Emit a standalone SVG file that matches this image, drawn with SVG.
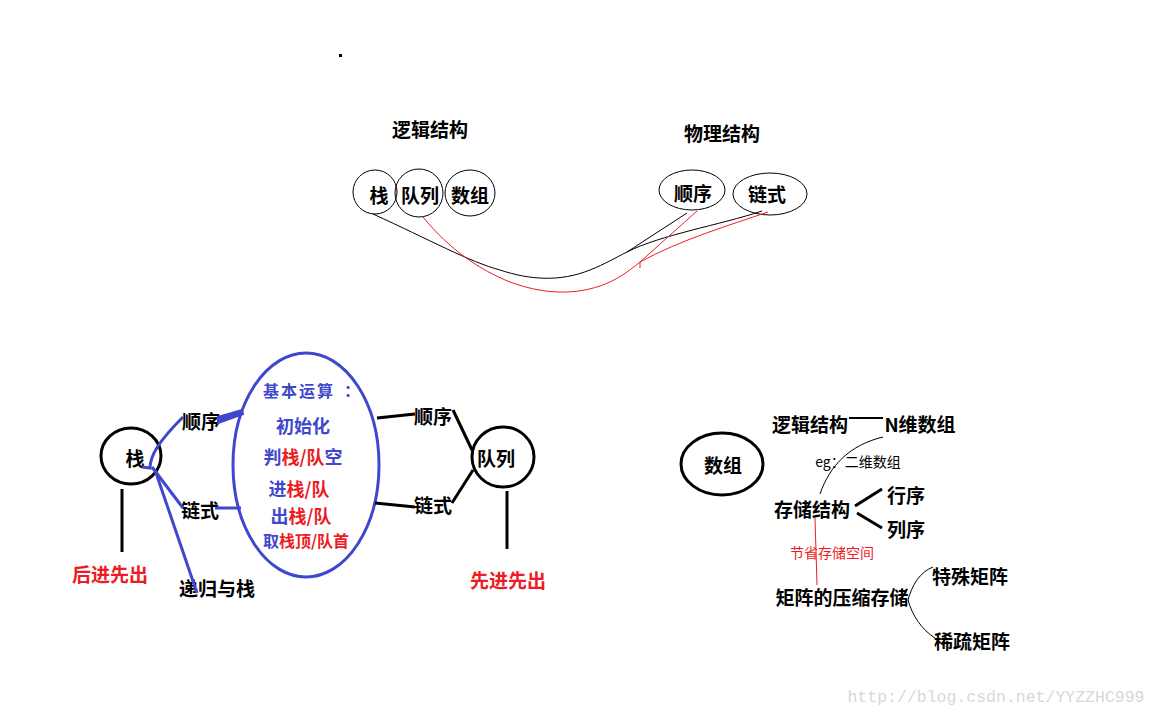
<svg xmlns="http://www.w3.org/2000/svg" width="1158" height="718" viewBox="0 0 1158 718">
<style>
text{font-family:"Noto Sans CJK SC","Liberation Sans",sans-serif;text-anchor:middle;dominant-baseline:central}
.b{font-size:19px;font-weight:bold;fill:#000}
.m{font-size:18px;font-weight:bold}
.n{font-size:14px;fill:#000}
.r{fill:#ed1c24}
.u{fill:#3f48cc}
.thin{fill:none;stroke:#000;stroke-width:1}
.thick{fill:none;stroke:#000;stroke-width:3}
.blue{fill:none;stroke:#3f48cc;stroke-width:3}
.wm{font-family:"Liberation Mono",monospace;font-size:16.5px;fill:#d8d8d8}
</style>
<rect width="1158" height="718" fill="#fff"/>
<rect x="339" y="54" width="3" height="3" fill="#000"/>

<g id="top-titles">
<text class="b" x="430" y="128">逻辑结构</text>
<text class="b" x="722" y="132">物理结构</text>
</g>
<g id="node-zhan-top"><ellipse cx="375" cy="192" rx="22" ry="22" class="thin"/><text class="b" x="379" y="194">栈</text></g>
<g id="node-duilie-top"><ellipse cx="419" cy="193" rx="24" ry="24" class="thin"/><text class="b" x="420" y="194">队列</text></g>
<g id="node-shuzu-top"><ellipse cx="470" cy="193" rx="25" ry="23" class="thin"/><text class="b" x="470" y="194">数组</text></g>
<g id="node-shunxu-top"><ellipse cx="692" cy="190" rx="33" ry="20" class="thin"/><text class="b" x="693" y="192">顺序</text></g>
<g id="node-lianshi-top"><ellipse cx="770" cy="194" rx="37" ry="21" class="thin"/><text class="b" x="767" y="193">链式</text></g>

<g id="node-zhan"><ellipse cx="131" cy="456" rx="30" ry="28" class="thick"/><text class="b" x="135" y="457">栈</text></g>
<g id="label-lifo"><text class="b r" x="110" y="573">后进先出</text></g>
<g id="label-shunxu-l"><text class="b" x="201" y="420">顺序</text></g>
<g id="label-lianshi-l"><text class="b" x="200" y="509">链式</text></g>
<g id="label-digui"><text class="b" x="217" y="587">递归与栈</text></g>

<g id="node-ops">
<ellipse cx="306" cy="465" rx="73" ry="112" fill="none" stroke="#3f48cc" stroke-width="3"/>
<text class="u" x="299" y="390" style="font-size:16px;font-weight:bold;letter-spacing:2px">基本运算</text>
<text class="u" x="352" y="390" style="font-size:16px;font-weight:bold">：</text>
<text class="m u" x="303" y="425">初始化</text>
<text class="m" x="303" y="456"><tspan class="u">判</tspan><tspan class="r">栈/队</tspan><tspan class="u">空</tspan></text>
<text class="m" x="299" y="488"><tspan class="u">进</tspan><tspan class="r">栈/队</tspan></text>
<text class="m" x="301" y="515"><tspan class="u">出</tspan><tspan class="r">栈/队</tspan></text>
<text class="m" x="306" y="540" style="font-size:16px"><tspan class="u">取</tspan><tspan class="r">栈顶/队首</tspan></text>
</g>

<g id="label-shunxu-r"><text class="b" x="433" y="415">顺序</text></g>
<g id="label-lianshi-r"><text class="b" x="433" y="504">链式</text></g>
<g id="node-duilie"><ellipse cx="503" cy="457" rx="31" ry="30" class="thick"/><text class="b" x="496" y="457">队列</text></g>
<g id="label-fifo"><text class="b r" x="508" y="579">先进先出</text></g>

<g id="node-shuzu"><ellipse cx="722" cy="464" rx="41" ry="31" class="thick"/><text class="b" x="723" y="464">数组</text></g>
<g id="label-ljjg"><text class="b" x="810" y="423">逻辑结构</text></g>
<g id="label-nwsz"><text class="b" x="920" y="423">N维数组</text></g>
<g id="label-eg"><text class="n" x="858" y="461">eg：二维数组</text></g>
<g id="label-ccjg"><text class="b" x="812" y="508">存储结构</text></g>
<g id="label-hangxu"><text class="b" x="906" y="494">行序</text></g>
<g id="label-liexu"><text class="b" x="906" y="528">列序</text></g>
<g id="label-jiesheng"><text class="n r" x="832" y="552">节省存储空间</text></g>
<g id="label-ysc"><text class="b" x="842" y="596">矩阵的压缩存储</text></g>
<g id="label-tsjz"><text class="b" x="970" y="575">特殊矩阵</text></g>
<g id="label-xsjz"><text class="b" x="972" y="640">稀疏矩阵</text></g>

<g id="connectors">
<path class="thin" d="M373,214 C430,240 470,262 500,270 C530,280 560,282 590,270 C605,264 615,258 627,252 L687,213 M627,252 C660,235 720,225 762,211"/>
<path fill="none" stroke="#ed1c24" stroke-width="1" d="M423,217 C450,250 480,270 510,282 C540,293 570,296 600,286 C615,281 628,272 640,262 L697,211 M640,262 C680,240 730,225 768,212 M640,262 L640,268"/>
<line class="thick" x1="122" y1="489" x2="122" y2="552"/>
<path class="blue" d="M142,467 L150,468 C150,455 160,440 183,417"/>
<path class="blue" d="M152,467 L183,508"/>
<path class="blue" d="M155,470 L197,593"/>
<path fill="#3f48cc" stroke="#3f48cc" stroke-width="2" d="M218,417 L242,410 L243,414 L218,423 Z"/>
<line class="blue" x1="215" y1="508" x2="241" y2="508"/>
<line class="thick" x1="377" y1="418" x2="415" y2="414"/>
<line class="thick" x1="453" y1="410" x2="472" y2="450"/>
<line class="thick" x1="452" y1="503" x2="473" y2="470"/>
<line class="thick" x1="375" y1="503" x2="415" y2="507"/>
<line class="thick" x1="507" y1="491" x2="507" y2="549"/>
<line x1="849" y1="418" x2="883" y2="418" stroke="#000" stroke-width="2"/>
<path class="thin" d="M883,437 C850,445 830,465 820,494"/>
<line class="thick" x1="855" y1="506" x2="882" y2="489"/>
<line class="thick" x1="857" y1="513" x2="882" y2="528"/>
<path fill="none" stroke="#ed1c24" stroke-width="1" d="M815,518 L817,585"/>
<path class="thin" d="M908,600 C912,585 920,572 933,567 M908,600 C912,615 922,630 935,638"/>
</g>
<text class="wm" x="996" y="697">http://blog.csdn.net/YYZZHC999</text>
</svg>
